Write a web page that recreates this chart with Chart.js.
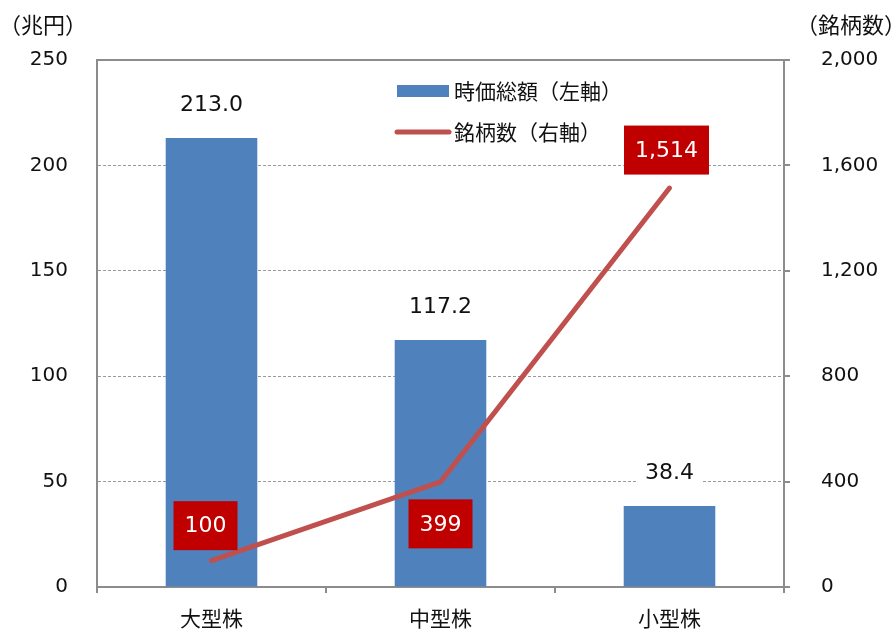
<!DOCTYPE html>
<html>
<head>
<meta charset="utf-8">
<script src="https://cdn.jsdelivr.net/npm/chart.js@4"></script>
<style>
  html, body { margin: 0; padding: 0; background: #fff; }
  #wrap { width: 891px; height: 631px; }
</style>
</head>
<body>
<div id="wrap"><canvas id="chart" width="891" height="631"></canvas></div>
<script>
const categories = ["大型株", "中型株", "小型株"];
const marketCap = [213.0, 117.2, 38.4];      // 兆円
const stockCounts = [100, 399, 1514];        // 銘柄数
const leftTicks = [0, 50, 100, 150, 200, 250];
const rightTicks = [0, 400, 800, 1200, 1600, 2000];

const FONT = "'DejaVu Sans', 'Noto Sans CJK JP', sans-serif";
const JP_FONT = "'Noto Sans CJK JP', sans-serif";
const AXIS_GRAY = "#8c8c8c";
const BLUE = "#4F81BD";
const RED_LINE = "#C0504D";
const RED_BOX = "#C00000";

// where each count label box sits relative to its point
const boxShift = [[-6, -35], [0, 42], [-3, -38]];

const overlay = {
  id: "overlay",
  beforeDatasetsDraw(chart) {
    const { ctx, chartArea: a } = chart;
    ctx.save();
    ctx.strokeStyle = AXIS_GRAY;
    ctx.lineWidth = 2;
    ctx.beginPath();
    ctx.moveTo(a.left - 1, a.top);
    ctx.lineTo(a.right + 1, a.top);
    ctx.stroke();
    ctx.restore();
  },
  afterDatasetsDraw(chart) {
    const { ctx } = chart;
    ctx.save();

    // bar values
    const bars = chart.getDatasetMeta(0).data;
    ctx.font = "22px " + FONT;
    ctx.textAlign = "center";
    ctx.textBaseline = "middle";
    bars.forEach((bar, i) => {
      const txt = marketCap[i].toFixed(1);
      const w = ctx.measureText(txt).width + 14;
      const y = bar.y - 33;
      ctx.fillStyle = "#fff";
      ctx.fillRect(bar.x - w / 2, y - 13, w, 26);
      ctx.fillStyle = "#111";
      ctx.fillText(txt, bar.x, y);
    });

    // stock count boxes
    const pts = chart.getDatasetMeta(1).data;
    pts.forEach((p, i) => {
      const txt = stockCounts[i].toLocaleString("en-US");
      const w = ctx.measureText(txt).width + 22;
      const h = 49;
      const cx = p.x + boxShift[i][0];
      const cy = p.y + boxShift[i][1];
      ctx.fillStyle = RED_BOX;
      ctx.fillRect(cx - w / 2, cy - h / 2, w, h);
      ctx.fillStyle = "#fff";
      ctx.fillText(txt, cx, cy + 1);
    });

    // axis unit titles
    ctx.fillStyle = "#111";
    ctx.font = "22px " + JP_FONT;
    ctx.textAlign = "left";
    ctx.fillText("（兆円）", -1, 25);
    ctx.fillText("（銘柄数）", 796, 25);

    // legend
    const bx = 397, ly1 = 91, ly2 = 132;
    ctx.fillStyle = chart.data.datasets[0].backgroundColor;
    ctx.fillRect(bx, ly1 - 6, 52, 12);
    ctx.strokeStyle = chart.data.datasets[1].borderColor;
    ctx.lineWidth = 5;
    ctx.lineCap = "round";
    ctx.beginPath();
    ctx.moveTo(bx, ly2);
    ctx.lineTo(bx + 52, ly2);
    ctx.stroke();
    ctx.font = "21px " + JP_FONT;
    ctx.fillStyle = "#111";
    ctx.fillText(chart.data.datasets[0].label, 454, ly1);
    ctx.fillText(chart.data.datasets[1].label, 454, ly2);

    ctx.restore();
  }
};

new Chart(document.getElementById("chart"), {
  data: {
    labels: categories,
    datasets: [
      {
        type: "bar",
        label: "時価総額（左軸）",
        data: marketCap,
        backgroundColor: BLUE,
        barPercentage: 0.4,
        categoryPercentage: 1,
        yAxisID: "y",
        order: 2
      },
      {
        type: "line",
        label: "銘柄数（右軸）",
        data: stockCounts,
        borderColor: RED_LINE,
        borderWidth: 5,
        borderCapStyle: "round",
        pointRadius: 0,
        tension: 0,
        yAxisID: "y1",
        order: 1
      }
    ]
  },
  options: {
    responsive: false,
    animation: false,
    layout: { padding: { top: 60, left: 0, right: 0, bottom: 0 } },
    plugins: {
      legend: { display: false },
      tooltip: { enabled: false }
    },
    scales: {
      x: {
        offset: true,
        grid: { offset: true, drawOnChartArea: false, tickLength: 6, color: AXIS_GRAY, lineWidth: 2 },
        border: { color: AXIS_GRAY, width: 2 },
        ticks: { padding: 12, color: "#111", font: { family: JP_FONT, size: 21 } },
        afterFit(scale) { scale.height = 44; }
      },
      y: {
        position: "left",
        min: 0,
        max: 250,
        afterBuildTicks(scale) { scale.ticks = leftTicks.map(v => ({ value: v })); },
        grid: {
          drawTicks: false,
          lineWidth: 1,
          color: ctx => (ctx.tick && (ctx.tick.value === 0 || ctx.tick.value === 250)) ? "rgba(0,0,0,0)" : "#9a9a9a"
        },
        border: { color: AXIS_GRAY, width: 2, dash: [3, 2] },
        ticks: { padding: 29, color: "#111", font: { family: FONT, size: 20 } },
        afterFit(scale) { scale.width = 97; }
      },
      y1: {
        position: "right",
        min: 0,
        max: 2000,
        afterBuildTicks(scale) { scale.ticks = rightTicks.map(v => ({ value: v })); },
        grid: { drawOnChartArea: false, tickLength: 6, color: AXIS_GRAY, lineWidth: 2 },
        border: { color: AXIS_GRAY, width: 2 },
        ticks: {
          padding: 31,
          color: "#111",
          font: { family: FONT, size: 20 },
          callback: v => v.toLocaleString("en-US")
        },
        afterFit(scale) { scale.width = 107; }
      }
    }
  },
  plugins: [overlay]
});
</script>
</body>
</html>
